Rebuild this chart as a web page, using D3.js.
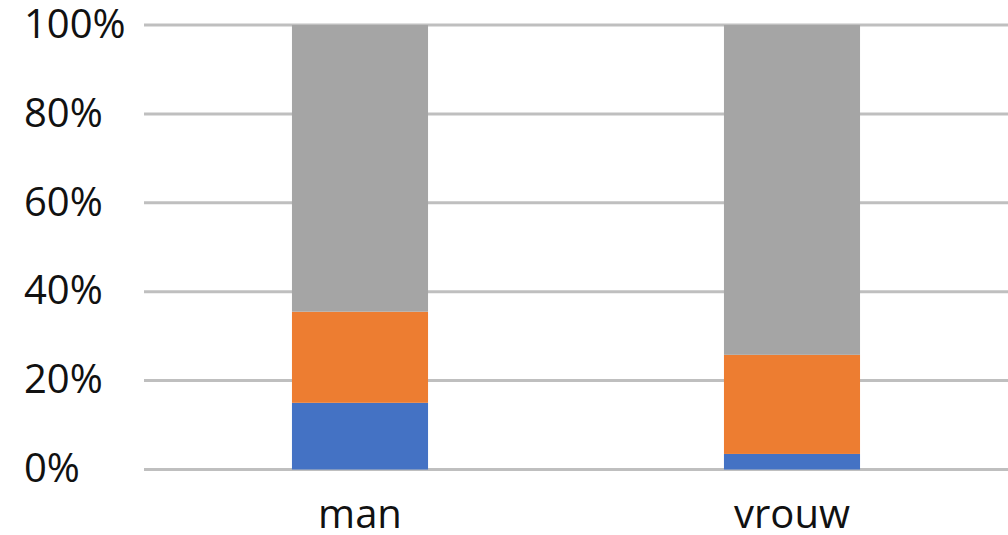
<!DOCTYPE html>
<html><head><meta charset="utf-8">
<script src="https://cdn.jsdelivr.net/npm/d3@7"></script>
<style>body{margin:0;background:#fff}svg{display:block}</style>
</head><body>
<svg id="c" width="1008" height="535"></svg>
<script>
const categories = ["man", "vrouw"];
const seriesNames = ["reeks1", "reeks2", "reeks3"];
const series1 = [15.0, 3.5];
const series2 = [20.5, 22.3];
const series3 = [64.5, 74.2];
const tickValues = [0, 20, 40, 60, 80, 100];
const colors = ["#4472C4", "#ED7D31", "#A5A5A5"];

const svg = d3.select("#c");
const x = d3.scaleBand().domain(categories).range([144, 1008]).paddingInner(0.685).paddingOuter(0.3425);
const y = d3.scaleLinear().domain([0, 100]).range([469.5, 25]);

// gridlines
svg.append("g").selectAll("line").data(tickValues).join("line")
  .attr("x1", 144).attr("x2", 1008)
  .attr("y1", d => y(d)).attr("y2", d => y(d))
  .attr("stroke", "#BFBFBF").attr("stroke-width", 3);

const rows = categories.map((c, i) => ({cat: c, reeks1: series1[i], reeks2: series2[i], reeks3: series3[i]}));
const stacked = d3.stack().keys(seriesNames)(rows);

svg.append("g").selectAll("g").data(stacked).join("g")
  .attr("fill", (d, i) => colors[i])
  .selectAll("rect").data(d => d).join("rect")
  .attr("x", d => x(d.data.cat))
  .attr("width", x.bandwidth())
  .attr("y", d => y(d[1]))
  .attr("height", d => y(d[0]) - y(d[1]));

// y labels
svg.append("g").selectAll("text").data(tickValues).join("text")
  .attr("x", 24).attr("y", d => y(d) + 2)
  .attr("dominant-baseline", "middle")
  .attr("font-family", "Open Sans, sans-serif")
  .attr("font-size", 40)
  .attr("fill", "#111")
  .text(d => d + "%");

// x labels
svg.append("g").selectAll("text").data(categories).join("text")
  .attr("x", d => x(d) + x.bandwidth() / 2)
  .attr("y", 528)
  .attr("text-anchor", "middle")
  .attr("font-family", "Open Sans, sans-serif")
  .attr("font-size", 40)
  .attr("fill", "#111")
  .text(d => d);
</script>
</body></html>
